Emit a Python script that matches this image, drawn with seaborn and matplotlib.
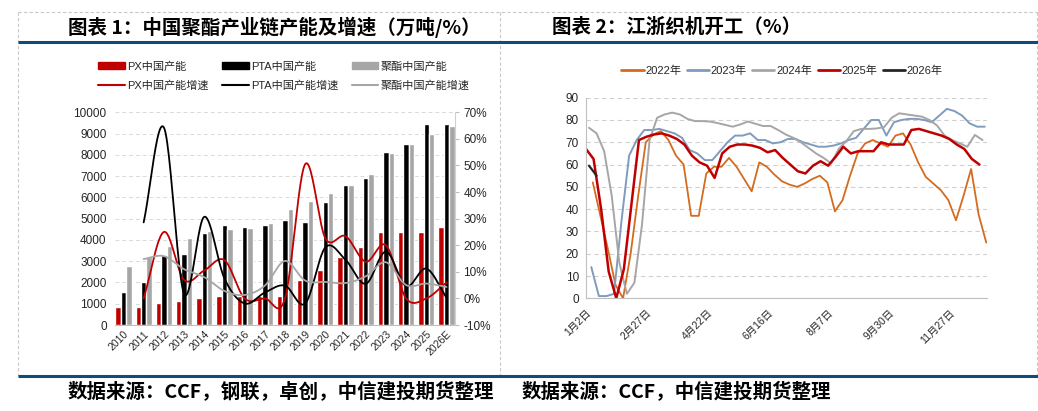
import numpy as np
import pandas as pd
import seaborn as sns
import matplotlib.pyplot as plt
from matplotlib.lines import Line2D
from matplotlib.patches import Patch

# ---- 图表1 数据：中国聚酯产业链产能（万吨）及增速（%）----
years = ['2010', '2011', '2012', '2013', '2014', '2015', '2016', '2017', '2018',
         '2019', '2020', '2021', '2022', '2023', '2024', '2025', '2026E']
px_cap = [830, 830, 1020, 1130, 1250, 1380, 1380, 1380, 1380,
          2100, 2600, 3200, 3650, 4370, 4370, 4370, 4610]
pta_cap = [1540, 2000, 3280, 3340, 4340, 4700, 4610, 4700, 4940,
           4860, 5770, 6570, 6930, 8150, 8510, 9450, 9450]
pet_cap = [2790, 3200, 3710, 4100, 4420, 4530, 4580, 4800, 5470,
           5830, 6190, 6570, 7120, 8100, 8510, 9000, 9370]
px_growth = [np.nan, 0, 25, 7, 10.5, 14.4, 0, 0, 0,
             50.5, 22.6, 23.4, 13.8, 20, 0, 0, 6]
pta_growth = [np.nan, 28.6, 64.3, 1.8, 30.7, 7.5, -1.9, 2.2, 4.8,
              -1.9, 19.2, 14.5, 5.5, 17.6, 4.6, 11.2, 0.3]
pet_growth = [np.nan, 14.8, 15.9, 11, 8, 2.8, 1.3, 4.8, 14.1,
              6.7, 6.2, 5.8, 8.3, 13.6, 5, 5.6, 4.3]

# ---- 图表2 数据：江浙织机开工（%），按周 ----
week_labels = ['1月2日', '2月27日', '4月22日', '6月16日', '8月7日', '9月30日', '11月27日']
rate_2022 = [52, 37, 22, 6, 0, 20, 46, 70, 73.5, 75, 71, 64, 60, 37, 37, 56, 59, 59,
             63, 59, 53.5, 48, 61, 59, 55.5, 52.5, 51, 50, 51.5, 53.5, 55, 52, 39, 44,
             55, 65, 69.5, 71, 69.5, 68, 73, 74, 69, 61, 54.5, 51.5, 48.5, 44, 35, 46,
             58, 37.5, 25]
rate_2023 = [14, 1, 1, 2, 35, 64, 71, 75.5, 75.5, 76, 75, 74, 72, 66.5, 65, 62, 62, 66,
             70, 73, 73, 74, 71, 71, 69.5, 70, 71.5, 71.5, 70, 69, 68, 68, 68.5, 69.5,
             71, 72, 76, 80, 80, 73, 79, 80, 80.5, 80.5, 80, 79, 82, 85, 84, 82, 78.5,
             77, 77]
rate_2024 = [76.5, 74, 66, 46, 16, 2, 7, 33, 71, 81, 82.5, 83.3, 82.5, 80.5, 79.5, 79.5,
             79.3, 78.6, 77.8, 77, 78, 79.3, 78.3, 77.3, 77.3, 75.5, 73.5, 72, 70, 67.5,
             65, 63, 60.5, 67, 70.5, 75, 76, 76, 76.2, 76.8, 81, 83, 82.5, 82, 81.5, 80,
             77.5, 73, 71, 69.5, 68, 73.3, 71]
rate_2025 = [67, 62.5, 40, 12, 0, 13, 42, 71, 72.5, 73.5, 74, 73, 71.5, 69, 64, 61, 59.5,
             54, 65, 68, 69, 69, 68.5, 67.5, 65.5, 66.5, 63, 60, 57, 56, 59.5, 61.5, 59.5,
             63.5, 68, 65, 66, 66, 66, 70, 69, 69, 69, 75.5, 76, 75, 74, 73, 71.5, 69, 67,
             62.5, 60]
rate_2026 = [59.5, 55]
# 各年份第一周相对 1月2日 的偏移（周）
week_offset = {'2022年': 0.9, '2023年': 0.7, '2024年': 0.4, '2025年': 0.0, '2026年': 0.4}


def smooth_curve(xs, ys, n=24):
    """Excel 风格平滑线（Catmull-Rom）"""
    xs = np.asarray(xs, float)
    ys = np.asarray(ys, float)
    m = np.gradient(ys)
    t = np.linspace(0, 1, n, endpoint=False)
    h00 = 2 * t**3 - 3 * t**2 + 1
    h10 = t**3 - 2 * t**2 + t
    h01 = -2 * t**3 + 3 * t**2
    h11 = t**3 - t**2
    out_x, out_y = [], []
    for i in range(len(ys) - 1):
        out_x.append(xs[i] + t * (xs[i + 1] - xs[i]))
        out_y.append(h00 * ys[i] + h10 * m[i] + h01 * ys[i + 1] + h11 * m[i + 1])
    out_x.append([xs[-1]])
    out_y.append([ys[-1]])
    return np.concatenate(out_x), np.concatenate(out_y)


sns.set_style('white')
plt.rcParams['font.family'] = ['Liberation Sans', 'Noto Sans CJK SC']
plt.rcParams['axes.unicode_minus'] = False

W, H = 1038, 411
fig = plt.figure(figsize=(W / 100, H / 100), dpi=100)


def fx(px):
    return px / W


def fy(py):
    return 1 - py / H


# ---- 页面框线 ----
grey_dash = dict(color='#C8C8C8', lw=0.8, ls=(0, (3, 2)), transform=fig.transFigure)
fig.add_artist(Line2D([fx(18), 1], [fy(11.7), fy(11.7)], **grey_dash))
for xv in [18, 499.5, 1036.5]:
    fig.add_artist(Line2D([fx(xv), fx(xv)], [fy(11.7), fy(376)], **grey_dash))
for yv in [41.7, 376]:
    fig.add_artist(Line2D([fx(18), 1], [fy(yv), fy(yv)], color='#0E4C7C', lw=2.2,
                          transform=fig.transFigure, solid_capstyle='butt'))

title_font = dict(family=['Noto Sans CJK SC'], weight='bold', fontsize=14,
                  va='center', ha='left', color='black')
fig.text(fx(68), fy(27), '图表 1：中国聚酯产业链产能及增速（万吨/%）', **title_font)
fig.text(fx(552), fy(27), '图表 2：江浙织机开工（%）', **title_font)
foot_font = dict(family=['Noto Sans CJK SC'], weight='bold', style='italic',
                 fontsize=14, va='center', ha='left', color='black')
fig.text(fx(68), fy(392), '数据来源：CCF，钢联，卓创，中信建投期货整理', **foot_font)
fig.text(fx(522), fy(392), '数据来源：CCF，中信建投期货整理', **foot_font)

# ---- 图表1 ----
ax = fig.add_axes([fx(115), fy(325), fx(455) - fx(115), fy(112.3) - fy(325)])
kinds = ['PX中国产能', 'PTA中国产能', '聚酯中国产能']
bar_colors = ['#C00000', '#000000', '#A6A6A6']
cap_df = pd.DataFrame({
    'year': years * 3,
    'cap': px_cap + pta_cap + pet_cap,
    'kind': [k for k in kinds for _ in years],
})
sns.barplot(data=cap_df, x='year', y='cap', hue='kind', order=years, hue_order=kinds,
            palette=bar_colors, width=0.8, saturation=1, legend=False, ax=ax)
ax.set_ylim(0, 10000)
ax.set_yticks(range(0, 10001, 1000))
ax.set_xlim(-0.42, len(years) - 0.58)
ax.set_xlabel('')
ax.set_ylabel('')
ax.yaxis.grid(True, color='#D9D9D9', ls=(0, (4, 3)), lw=0.7)
ax.set_axisbelow(True)
ax.set_xticks(range(len(years)))
ax.set_xticklabels(years, rotation=45, ha='right', rotation_mode='anchor', fontsize=7.5)
ax.tick_params(axis='y', labelsize=8.5, length=0, pad=6)
ax.tick_params(axis='x', length=0, pad=3)
for s in ['left', 'top', 'right']:
    ax.spines[s].set_visible(False)
ax.spines['bottom'].set_color('#BFBFBF')

ax2 = ax.twinx()
growth_colors = ['#C00000', '#000000', '#A6A6A6']
growth_names = ['PX中国产能增速', 'PTA中国产能增速', '聚酯中国产能增速']
xi = np.arange(1, len(years))
for g, c in zip([px_growth, pta_growth, pet_growth], growth_colors):
    sx, sy = smooth_curve(xi, g[1:])
    sns.lineplot(x=sx, y=sy, color=c, lw=1.3, sort=False, estimator=None, ax=ax2)
ax2.set_ylim(-10, 70)
ax2.set_yticks(range(-10, 71, 10))
ax2.set_yticklabels([f'{v}%' for v in range(-10, 71, 10)])
ax2.tick_params(axis='y', labelsize=8.5, length=3, color='#BFBFBF', pad=3)
for s in ['left', 'top']:
    ax2.spines[s].set_visible(False)
ax2.spines['bottom'].set_visible(False)
ax2.spines['right'].set_color('#D0D0D0')

handles = []
for k, bc, gn, gc in zip(kinds, bar_colors, growth_names, growth_colors):
    handles.append(Patch(facecolor=bc, edgecolor=bc, label=k))
    handles.append(Line2D([0], [0], color=gc, lw=1.5, label=gn))
fig.legend(handles=handles, loc='center', bbox_to_anchor=(fx(284), fy(76)), ncol=3,
           frameon=False, fontsize=8, handlelength=2.4, handleheight=0.5,
           handletextpad=0.2, columnspacing=1.2, labelspacing=0.8)

# ---- 图表2 ----
bx = fig.add_axes([fx(586), fy(298.3), fx(987) - fx(586), fy(97.7) - fy(298.3)])
series = {'2022年': rate_2022, '2023年': rate_2023, '2024年': rate_2024,
          '2025年': rate_2025, '2026年': rate_2026}
line_colors = {'2022年': '#D46B1E', '2023年': '#7F9BBE', '2024年': '#A6A6A6',
               '2025年': '#C00000', '2026年': '#262626'}
line_widths = {'2022年': 1.3, '2023年': 1.4, '2024年': 1.4, '2025年': 1.8, '2026年': 1.6}
for name, vals in series.items():
    wx = week_offset[name] + np.arange(len(vals))
    sns.lineplot(x=wx, y=vals, color=line_colors[name], lw=line_widths[name],
                 sort=False, estimator=None, ax=bx)
bx.set_xlim(0, 53)
bx.set_ylim(0, 90)
bx.set_yticks(range(0, 91, 10))
bx.yaxis.grid(True, color='#D0D0D0', ls=(0, (4, 3)), lw=0.8)
bx.set_axisbelow(True)
bx.set_xticks(range(0, 49, 8))
bx.set_xticklabels(week_labels, rotation=45, ha='right', rotation_mode='anchor', fontsize=7.5)
bx.tick_params(axis='x', length=3, color='#BFBFBF', pad=4)
bx.tick_params(axis='y', labelsize=8.5, length=0, pad=5)
for s in ['top', 'right']:
    bx.spines[s].set_visible(False)
for s in ['left', 'bottom']:
    bx.spines[s].set_color('#BFBFBF')

leg_handles = [Line2D([0], [0], color=line_colors[n], lw=2, label=n) for n in series]
fig.legend(handles=leg_handles, loc='center', bbox_to_anchor=(fx(782), fy(71)), ncol=5,
           frameon=False, fontsize=8, handlelength=2.0, handletextpad=0.15,
           columnspacing=0.5)

fig.savefig('out.png', dpi=100)
